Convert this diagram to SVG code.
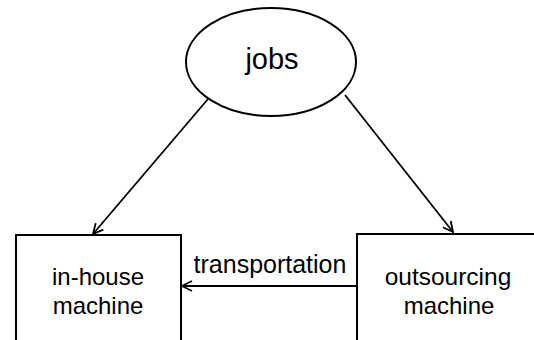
<svg xmlns="http://www.w3.org/2000/svg" width="534" height="340" viewBox="0 0 534 340">
<defs>
<style>
.shape{fill:#fff;stroke:#000;stroke-width:2}
.edge{fill:none;stroke:#000;stroke-width:1.8}
.lbl{font-family:"Liberation Sans","Arial",sans-serif;fill:#000;text-anchor:middle}
</style>
<marker id="arr" viewBox="0 0 12 12" refX="11" refY="6" markerWidth="12" markerHeight="12" markerUnits="userSpaceOnUse" orient="auto">
<path d="M1,1 L11,6 L1,11" fill="none" stroke="#000" stroke-width="1.8"/>
</marker>
</defs>
<rect width="534" height="340" fill="#fff"/>
<g id="connectors">
<line class="edge" x1="208" y1="99" x2="93" y2="234" marker-end="url(#arr)"/>
<line class="edge" x1="345" y1="95" x2="453" y2="232" marker-end="url(#arr)"/>
<line class="edge" x1="357" y1="286" x2="182" y2="286" marker-end="url(#arr)"/>
<text class="lbl" x="270" y="273" font-size="25">transportation</text>
</g>
<g id="jobs">
<ellipse class="shape" cx="271" cy="62" rx="85" ry="54"/>
<text class="lbl" x="272" y="69" font-size="29">jobs</text>
</g>
<g id="in-house">
<rect class="shape" x="16" y="235" width="165" height="115"/>
<text class="lbl" x="98" y="285" font-size="24">in-house</text>
<text class="lbl" x="98" y="314" font-size="24">machine</text>
</g>
<g id="outsourcing">
<rect class="shape" x="357" y="234" width="190" height="115"/>
<text class="lbl" x="448" y="285" font-size="24.5">outsourcing</text>
<text class="lbl" x="449" y="314" font-size="24">machine</text>
</g>
</svg>
